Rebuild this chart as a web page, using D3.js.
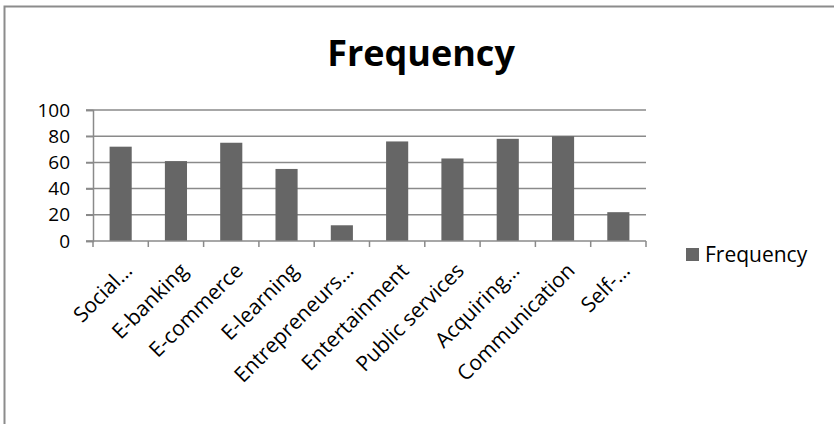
<!DOCTYPE html>
<html>
<head>
<meta charset="utf-8">
<script src="https://cdn.jsdelivr.net/npm/d3@7"></script>
<style>
  html, body { margin: 0; padding: 0; background: #fff; }
  svg { display: block; font-family: "Open Sans", sans-serif; }
</style>
</head>
<body>
<svg id="chart" width="834" height="424"></svg>
<script>
// Usage frequency per purpose
const categories = ["Social…", "E-banking", "E-commerce", "E-learning", "Entrepreneurs…",
                    "Entertainment", "Public services", "Acquiring…", "Communication", "Self-…"];
const frequency = [72, 61, 75, 55, 12, 76, 63, 78, 80, 22];
const yTicks = [0, 20, 40, 60, 80, 100];
const seriesName = "Frequency";
const chartTitle = "Frequency";

const svg = d3.select("#chart");
const W = 834, H = 424;
const lineColor = "#8a8a8a";
const barColor = "#666666";

// outer frame
svg.append("rect")
  .attr("x", 4.5).attr("y", 6.5)
  .attr("width", W + 10).attr("height", H + 10)
  .attr("fill", "#fff")
  .attr("stroke", "#8c8c8c").attr("stroke-width", 2);

const plot = { left: 93, right: 646, top: 110, bottom: 241 };

const x = d3.scaleBand()
  .domain(categories)
  .range([plot.left, plot.right])
  .paddingInner(0.6).paddingOuter(0.3);

const y = d3.scaleLinear()
  .domain([0, 100])
  .range([plot.bottom, plot.top]);

// title
svg.append("text")
  .attr("x", 421).attr("y", 66)
  .attr("text-anchor", "middle")
  .attr("font-size", 36).attr("font-weight", 700)
  .attr("fill", "#000")
  .text(chartTitle);

// gridlines
svg.append("g")
  .selectAll("line")
  .data(yTicks.filter(d => d > 0))
  .join("line")
  .attr("x1", plot.left - 7).attr("x2", plot.right)
  .attr("y1", d => y(d)).attr("y2", d => y(d))
  .attr("stroke", lineColor).attr("stroke-width", 1.5);

// y axis
const yAxis = svg.append("g")
  .attr("transform", `translate(${plot.left},0)`)
  .call(d3.axisLeft(y).tickValues(yTicks).tickSize(7).tickPadding(16).tickFormat(d3.format("d")));
yAxis.select(".domain").attr("stroke", lineColor).attr("stroke-width", 1.5);
yAxis.selectAll(".tick line").attr("stroke", lineColor).attr("stroke-width", 1.5);
yAxis.selectAll(".tick text")
  .attr("font-size", 19).attr("fill", "#000")
  .attr("font-family", "'Open Sans', sans-serif");

// bars
svg.append("g")
  .selectAll("rect")
  .data(categories.map((c, i) => ({ c, v: frequency[i] })))
  .join("rect")
  .attr("x", d => x(d.c))
  .attr("y", d => y(d.v))
  .attr("width", x.bandwidth())
  .attr("height", d => y(0) - y(d.v))
  .attr("fill", barColor);

// x axis: ticks at category boundaries
const step = (plot.right - plot.left) / categories.length;
const xAxis = svg.append("g");
xAxis.append("line")
  .attr("x1", plot.left - 7).attr("x2", plot.right)
  .attr("y1", plot.bottom).attr("y2", plot.bottom)
  .attr("stroke", lineColor).attr("stroke-width", 1.5);
xAxis.selectAll("line.tk")
  .data(d3.range(categories.length + 1))
  .join("line")
  .attr("class", "tk")
  .attr("x1", i => plot.left + i * step).attr("x2", i => plot.left + i * step)
  .attr("y1", plot.bottom).attr("y2", plot.bottom + 6)
  .attr("stroke", lineColor).attr("stroke-width", 1.5);

xAxis.selectAll("text")
  .data(categories)
  .join("text")
  .attr("transform", d => `translate(${x(d) + x.bandwidth() / 2 + 13},${plot.bottom + 31}) rotate(-45)`)
  .attr("text-anchor", "end")
  .attr("font-size", 21).attr("fill", "#000")
  .text(d => d);

// legend
const lg = svg.append("g").attr("transform", "translate(686,248)");
lg.append("rect").attr("width", 13).attr("height", 13).attr("fill", barColor);
lg.append("text").attr("x", 19).attr("y", 14).attr("font-size", 21).attr("fill", "#000").text(seriesName);
</script>
</body>
</html>
